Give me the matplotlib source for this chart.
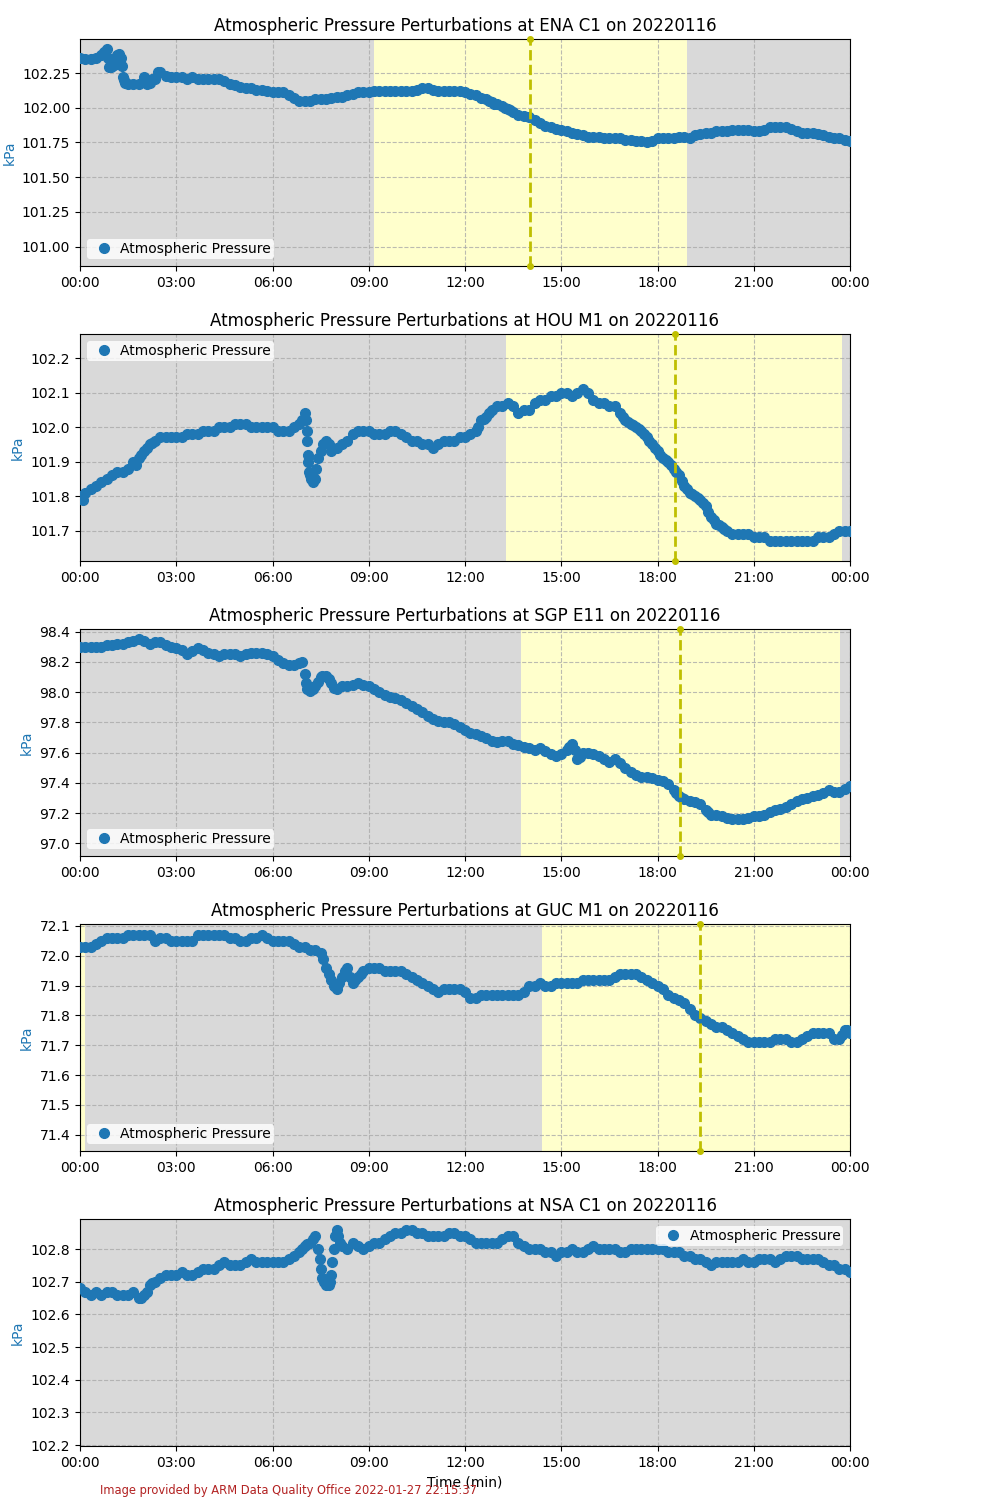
import numpy as np
import pandas as pd
import matplotlib
matplotlib.use("Agg")
import matplotlib.pyplot as plt
import matplotlib.dates as mdates

# 10-minute readings, 00:00 .. 24:00 (145 values per site)
ena = [102.36, 102.35, 102.35, 102.36, 102.38, 102.42,
       102.30, 102.38, 102.22, 102.17, 102.17, 102.17,
       102.22, 102.18, 102.21, 102.26, 102.23, 102.22,
       102.22, 102.22, 102.21, 102.22, 102.21, 102.21,
       102.21, 102.21, 102.21, 102.19, 102.17, 102.16,
       102.15, 102.14, 102.14, 102.13, 102.13, 102.12,
       102.11, 102.11, 102.11, 102.09, 102.07, 102.05,
       102.05, 102.05, 102.06, 102.06, 102.06, 102.07,
       102.08, 102.08, 102.09, 102.10, 102.11, 102.11,
       102.11, 102.12, 102.12, 102.12, 102.12, 102.12,
       102.12, 102.12, 102.12, 102.13, 102.14, 102.14,
       102.13, 102.12, 102.12, 102.12, 102.12, 102.12,
       102.11, 102.10, 102.09, 102.07, 102.06, 102.04,
       102.03, 102.01, 101.99, 101.97, 101.95, 101.94,
       101.93, 101.91, 101.89, 101.87, 101.86, 101.85,
       101.84, 101.83, 101.82, 101.81, 101.80, 101.79,
       101.79, 101.79, 101.78, 101.78, 101.78, 101.78,
       101.77, 101.77, 101.76, 101.76, 101.75, 101.76,
       101.78, 101.78, 101.78, 101.78, 101.79, 101.79,
       101.78, 101.80, 101.81, 101.82, 101.82, 101.83,
       101.83, 101.83, 101.84, 101.84, 101.84, 101.84,
       101.83, 101.83, 101.84, 101.86, 101.86, 101.86,
       101.86, 101.85, 101.83, 101.82, 101.82, 101.82,
       101.81, 101.80, 101.79, 101.78, 101.78, 101.77,
       101.76]

hou = [101.80, 101.81, 101.82, 101.83, 101.84, 101.85,
       101.86, 101.87, 101.87, 101.88, 101.90, 101.91,
       101.93, 101.95, 101.96, 101.97, 101.97, 101.97,
       101.97, 101.97, 101.98, 101.98, 101.98, 101.99,
       101.99, 101.99, 102.00, 102.00, 102.00, 102.01,
       102.01, 102.01, 102.00, 102.00, 102.00, 102.00,
       102.00, 101.99, 101.99, 101.99, 102.00, 102.01,
       102.04, 101.86, 101.85, 101.93, 101.96, 101.93,
       101.94, 101.95, 101.96, 101.98, 101.99, 101.99,
       101.99, 101.98, 101.98, 101.98, 101.99, 101.99,
       101.98, 101.97, 101.96, 101.96, 101.95, 101.95,
       101.94, 101.95, 101.96, 101.96, 101.96, 101.97,
       101.97, 101.98, 101.99, 102.02, 102.03, 102.05,
       102.06, 102.06, 102.07, 102.06, 102.04, 102.05,
       102.05, 102.07, 102.08, 102.08, 102.09, 102.09,
       102.10, 102.10, 102.09, 102.10, 102.11, 102.10,
       102.08, 102.07, 102.07, 102.06, 102.06, 102.04,
       102.02, 102.01, 102.00, 101.99, 101.97, 101.95,
       101.93, 101.91, 101.90, 101.88, 101.86, 101.83,
       101.81, 101.80, 101.79, 101.77, 101.74, 101.72,
       101.71, 101.70, 101.69, 101.69, 101.69, 101.69,
       101.68, 101.68, 101.68, 101.67, 101.67, 101.67,
       101.67, 101.67, 101.67, 101.67, 101.67, 101.67,
       101.68, 101.68, 101.68, 101.69, 101.70, 101.70,
       101.70]

sgp = [98.30, 98.30, 98.30, 98.30, 98.30, 98.31,
       98.31, 98.32, 98.32, 98.33, 98.34, 98.35,
       98.34, 98.32, 98.33, 98.33, 98.31, 98.30,
       98.29, 98.28, 98.25, 98.27, 98.29, 98.28,
       98.26, 98.25, 98.24, 98.25, 98.25, 98.25,
       98.24, 98.25, 98.26, 98.26, 98.26, 98.25,
       98.24, 98.21, 98.19, 98.18, 98.18, 98.19,
       98.12, 98.01, 98.04, 98.10, 98.11, 98.06,
       98.02, 98.04, 98.04, 98.05, 98.06, 98.05,
       98.04, 98.02, 98.00, 97.98, 97.97, 97.96,
       97.95, 97.93, 97.91, 97.89, 97.87, 97.84,
       97.82, 97.81, 97.80, 97.80, 97.79, 97.77,
       97.75, 97.73, 97.72, 97.71, 97.70, 97.68,
       97.67, 97.68, 97.68, 97.66, 97.65, 97.64,
       97.63, 97.62, 97.63, 97.61, 97.59, 97.58,
       97.59, 97.62, 97.66, 97.56, 97.60, 97.60,
       97.59, 97.58, 97.56, 97.54, 97.56, 97.53,
       97.50, 97.47, 97.45, 97.44, 97.44, 97.43,
       97.42, 97.41, 97.39, 97.35, 97.31, 97.29,
       97.28, 97.27, 97.26, 97.22, 97.19, 97.19,
       97.18, 97.17, 97.16, 97.16, 97.16, 97.17,
       97.18, 97.18, 97.19, 97.21, 97.22, 97.23,
       97.24, 97.26, 97.28, 97.29, 97.30, 97.31,
       97.32, 97.33, 97.35, 97.34, 97.34, 97.36,
       97.38]

guc = [72.03, 72.03, 72.03, 72.04, 72.05, 72.06,
       72.06, 72.06, 72.06, 72.07, 72.07, 72.07,
       72.07, 72.07, 72.05, 72.06, 72.06, 72.05,
       72.05, 72.05, 72.05, 72.05, 72.07, 72.07,
       72.07, 72.07, 72.07, 72.07, 72.06, 72.06,
       72.05, 72.05, 72.06, 72.06, 72.07, 72.06,
       72.05, 72.05, 72.05, 72.05, 72.04, 72.03,
       72.03, 72.02, 72.02, 72.01, 71.96, 71.92,
       71.89, 71.93, 71.96, 71.91, 71.93, 71.95,
       71.96, 71.96, 71.96, 71.95, 71.95, 71.95,
       71.95, 71.94, 71.93, 71.92, 71.91, 71.90,
       71.89, 71.88, 71.89, 71.89, 71.89, 71.89,
       71.88, 71.86, 71.86, 71.87, 71.87, 71.87,
       71.87, 71.87, 71.87, 71.87, 71.87, 71.88,
       71.90, 71.90, 71.91, 71.90, 71.90, 71.91,
       71.91, 71.91, 71.91, 71.91, 71.92, 71.92,
       71.92, 71.92, 71.92, 71.92, 71.93, 71.94,
       71.94, 71.94, 71.94, 71.93, 71.92, 71.91,
       71.90, 71.89, 71.87, 71.86, 71.85, 71.84,
       71.82, 71.80, 71.79, 71.78, 71.77, 71.76,
       71.76, 71.75, 71.74, 71.73, 71.72, 71.71,
       71.71, 71.71, 71.71, 71.71, 71.72, 71.72,
       71.72, 71.71, 71.71, 71.72, 71.73, 71.74,
       71.74, 71.74, 71.74, 71.72, 71.72, 71.75,
       71.74]

nsa = [102.68, 102.67, 102.66, 102.67, 102.66, 102.67,
       102.67, 102.66, 102.66, 102.66, 102.67, 102.65,
       102.66, 102.69, 102.70, 102.71, 102.72, 102.72,
       102.72, 102.73, 102.72, 102.72, 102.73, 102.74,
       102.74, 102.74, 102.75, 102.76, 102.75, 102.75,
       102.75, 102.76, 102.77, 102.76, 102.76, 102.76,
       102.76, 102.76, 102.76, 102.77, 102.78, 102.79,
       102.81, 102.82, 102.84, 102.74, 102.69, 102.72,
       102.86, 102.81, 102.80, 102.82, 102.81, 102.80,
       102.81, 102.82, 102.82, 102.83, 102.84, 102.85,
       102.85, 102.86, 102.86, 102.85, 102.85, 102.84,
       102.84, 102.84, 102.84, 102.85, 102.85, 102.84,
       102.84, 102.83, 102.82, 102.82, 102.82, 102.82,
       102.82, 102.83, 102.84, 102.84, 102.82, 102.81,
       102.80, 102.80, 102.80, 102.79, 102.79, 102.78,
       102.79, 102.79, 102.80, 102.79, 102.79, 102.80,
       102.81, 102.80, 102.80, 102.80, 102.80, 102.79,
       102.79, 102.80, 102.80, 102.80, 102.80, 102.80,
       102.80, 102.80, 102.79, 102.79, 102.79, 102.78,
       102.78, 102.77, 102.77, 102.76, 102.75, 102.76,
       102.76, 102.76, 102.76, 102.76, 102.77, 102.76,
       102.76, 102.77, 102.77, 102.77, 102.76, 102.77,
       102.78, 102.78, 102.78, 102.77, 102.77, 102.77,
       102.77, 102.76, 102.75, 102.75, 102.74, 102.74,
       102.73]

# extra readings where the trace moves fast (time, value)
ena_extra_t = ["00:45", "00:53", "00:55", "00:58", "01:03", "01:06", "01:13", "01:16",
               "01:18", "01:22", "01:25", "02:02", "02:05", "02:15", "02:25", "12:45",
               "12:55", "13:15", "13:25"]
ena_extra_v = [102.40, 102.36, 102.29, 102.29, 102.31, 102.34, 102.39, 102.36,
               102.30, 102.20, 102.18, 102.21, 102.17, 102.21, 102.26, 102.05,
               102.03, 102.00, 101.98]
hou_extra_t = ["00:05", "01:45", "01:55", "02:05", "02:15", "06:55", "07:02", "07:04",
               "07:05", "07:06", "07:07", "07:08", "07:12", "07:15", "07:18", "07:22",
               "07:25", "07:35", "07:45", "12:25", "12:35", "12:45",
               "16:55", "17:05", "17:15", "17:25", "17:35", "17:45", "17:55", "18:05",
               "18:15", "18:25", "18:35", "18:45", "18:55", "19:05", "19:15", "19:25",
               "19:35", "19:45", "19:55", "20:05"]
hou_extra_v = [101.79, 101.89, 101.92, 101.94, 101.955, 102.02, 102.02, 101.99,
               101.96, 101.92, 101.90, 101.87, 101.85, 101.84, 101.85, 101.88,
               101.91, 101.95, 101.95, 102.00, 102.025, 102.04,
               102.03, 102.015, 102.005, 101.995, 101.98, 101.96, 101.94, 101.92,
               101.905, 101.89, 101.87, 101.845, 101.82, 101.805, 101.795, 101.78,
               101.755, 101.73, 101.715, 101.705]
sgp_extra_t = ["06:55", "07:03", "07:05", "07:15", "07:25", "07:33", "07:45", "07:55",
               "15:15", "15:25", "15:35", "18:35", "18:45", "19:35"]
sgp_extra_v = [98.20, 98.06, 98.02, 98.02, 98.07, 98.11, 98.09, 98.03,
               97.64, 97.62, 97.57, 97.33, 97.30, 97.21]
guc_extra_t = ["07:35", "07:45", "07:55", "08:05", "08:15", "08:25", "08:35", "08:45",
               "23:45", "23:55"]
guc_extra_v = [71.99, 71.94, 71.90, 71.91, 71.95, 71.93, 71.92, 71.94,
               71.735, 71.75]
nsa_extra_t = ["01:55", "02:05", "02:15", "06:55", "07:05", "07:15", "07:25", "07:28",
               "07:33", "07:37", "07:45", "07:48", "07:52", "07:55", "07:57", "08:03",
               "08:07"]
nsa_extra_v = [102.65, 102.67, 102.695, 102.80, 102.815, 102.83, 102.80, 102.77,
               102.71, 102.70, 102.69, 102.70, 102.76, 102.80, 102.84, 102.84,
               102.82]

sites = ["ENA C1", "HOU M1", "SGP E11", "GUC M1", "NSA C1"]
values = [ena, hou, sgp, guc, nsa]
extra_t = [ena_extra_t, hou_extra_t, sgp_extra_t, guc_extra_t, nsa_extra_t]
extra_v = [ena_extra_v, hou_extra_v, sgp_extra_v, guc_extra_v, nsa_extra_v]
ylims = [(100.86, 102.495), (101.612, 102.27), (96.916, 98.418),
         (71.346, 72.106), (102.197, 102.892)]
# daylight periods in hours and solar noon (None = polar night)
daylight = [[(9.155, 18.92)], [(13.28, 23.75)], [(13.75, 23.69)],
            [(0.0, 0.156), (14.40, 24.0)], []]
noon = [14.03, 18.53, 18.70, 19.31, None]
legend_loc = ["lower left", "upper left", "lower left", "lower left", "upper right"]

day0 = pd.Timestamp("2022-01-16")
times = pd.date_range(day0, day0 + pd.Timedelta(hours=24), freq="10min")


def hrs(h):
    return day0 + pd.Timedelta(hours=h)


fig, axes = plt.subplots(5, 1, figsize=(10, 15), dpi=100)
fig.subplots_adjust(left=0.08, right=0.85, top=0.974, bottom=0.036, hspace=0.3)

for i, ax in enumerate(axes):
    ax.set_facecolor("#d9d9d9")
    for start, end in daylight[i]:
        ax.axvspan(hrs(start), hrs(end), color="#ffffcc", zorder=1, lw=0)
    t_all = list(times) + [day0 + pd.Timedelta(s + ":00") for s in extra_t[i]]
    v_all = list(values[i]) + list(extra_v[i])
    order = np.argsort(np.array(t_all, dtype="datetime64[ns]"))
    t_all = [t_all[k] for k in order]
    v_all = [v_all[k] for k in order]
    ax.plot(t_all, v_all, "o", color="#1f77b4", ms=7, label="Atmospheric Pressure", zorder=3)
    ymin, ymax = ylims[i]
    if noon[i] is not None:
        ax.plot([hrs(noon[i]), hrs(noon[i])], [ymin, ymax], "--", color="#bfbf00",
                lw=2, marker="o", ms=4, zorder=4, clip_on=False)
    ax.set_ylim(ymin, ymax)
    ax.set_xlim(hrs(0), hrs(24))
    ax.xaxis.set_major_locator(mdates.HourLocator(interval=3))
    ax.xaxis.set_major_formatter(mdates.DateFormatter("%H:%M"))
    ax.grid(True, linestyle="--", color="#aaaaaa", lw=0.8, alpha=0.8)
    ax.set_ylabel("kPa", color="#1f77b4")
    ax.set_title("Atmospheric Pressure Perturbations at %s on 20220116" % sites[i], fontsize=12)
    ax.legend(loc=legend_loc[i], borderpad=0.2, handletextpad=0.2, edgecolor="none")

axes[-1].set_xlabel("Time (min)")
fig.text(0.1, 0.004, "Image provided by ARM Data Quality Office 2022-01-27 22:15:37",
         color="firebrick", fontsize=8.3)

fig.savefig("out.png")
